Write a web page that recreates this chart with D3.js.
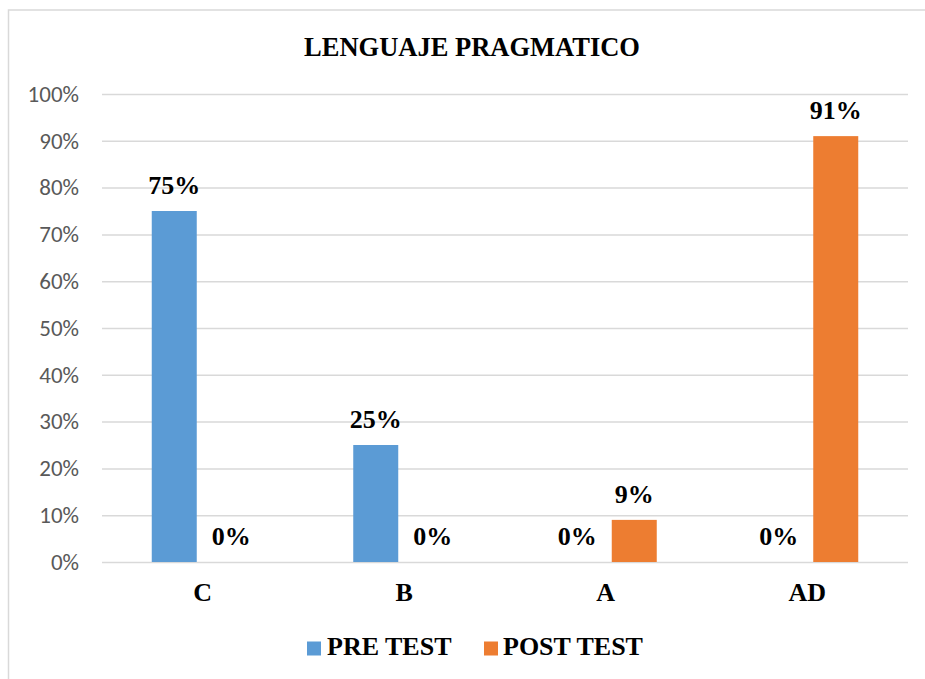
<!DOCTYPE html>
<html>
<head>
<meta charset="utf-8">
<script src="https://cdn.jsdelivr.net/npm/d3@7"></script>
<style>
  html, body { margin: 0; padding: 0; background: #ffffff; }
  svg { display: block; }
</style>
</head>
<body>
<svg id="chart" width="925" height="679"></svg>
<script>
const title = "LENGUAJE PRAGMATICO";
const categories = ["C", "B", "A", "AD"];
const seriesNames = ["PRE TEST", "POST TEST"];
const preTest = [0.75, 0.25, 0, 0];
const postTest = [0, 0, 0.09, 0.91];
const yTicks = [0, 0.1, 0.2, 0.3, 0.4, 0.5, 0.6, 0.7, 0.8, 0.9, 1.0];
const colors = ["#5B9BD5", "#ED7D31"];

const seriesValues = [preTest, postTest];
const svg = d3.select("#chart");
const W = 925, H = 679;
const plot = { left: 102, right: 908, top: 94, bottom: 562 };
const serif = "'Times New Roman', 'Liberation Serif', serif";
const sans = "'Carlito', 'Open Sans', 'Liberation Sans', sans-serif";

// chart border
svg.append("rect")
  .attr("x", 8.5).attr("y", 10)
  .attr("width", W + 20).attr("height", H + 20)
  .attr("fill", "#ffffff")
  .attr("stroke", "#D9D9D9").attr("stroke-width", 1.5);

// title
svg.append("text")
  .attr("x", 472).attr("y", 56)
  .attr("text-anchor", "middle")
  .attr("font-family", serif).attr("font-weight", "bold").attr("font-size", 26.5)
  .attr("fill", "#000000")
  .text(title);

const y = d3.scaleLinear().domain([0, 1]).range([plot.bottom, plot.top]);
const x0 = d3.scaleBand().domain(categories).range([plot.left, plot.right]).padding(0);
const x1 = d3.scaleBand().domain(seriesNames).range([-51, 51]).paddingInner(12 / 57).paddingOuter(0);

// gridlines + y tick labels
const yAxis = d3.axisLeft(y).tickValues(yTicks).tickSize(-(plot.right - plot.left)).tickPadding(23)
  .tickFormat(d3.format(".0%"));
const gy = svg.append("g").attr("transform", `translate(${plot.left},0)`).call(yAxis);
gy.select(".domain").remove();
gy.selectAll(".tick line").attr("stroke", "#D9D9D9").attr("stroke-width", 1.5);
gy.selectAll(".tick text")
  .attr("font-family", sans).attr("font-size", 23).attr("fill", "#595959");

// bars
const groups = svg.append("g").selectAll("g")
  .data(categories)
  .join("g")
  .attr("transform", d => `translate(${x0(d) + x0.bandwidth() / 2},0)`);

seriesNames.forEach((s, si) => {
  groups.append("rect")
    .attr("x", x1(s))
    .attr("width", x1.bandwidth())
    .attr("y", (d, i) => y(seriesValues[si][i]))
    .attr("height", (d, i) => y(0) - y(seriesValues[si][i]))
    .attr("fill", colors[si]);
  groups.append("text")
    .attr("x", x1(s) + x1.bandwidth() / 2)
    .attr("y", (d, i) => y(seriesValues[si][i]) - 17)
    .attr("text-anchor", "middle")
    .attr("font-family", serif).attr("font-weight", "bold").attr("font-size", 26)
    .attr("fill", "#000000")
    .text((d, i) => d3.format(".0%")(seriesValues[si][i]));
});

// x axis labels
const xAxis = d3.axisBottom(x0).tickSize(0).tickPadding(0);
const gx = svg.append("g").attr("transform", `translate(0,${plot.bottom})`).call(xAxis);
gx.select(".domain").remove();
gx.selectAll(".tick text")
  .attr("dy", 0).attr("y", 39)
  .attr("font-family", serif).attr("font-weight", "bold").attr("font-size", 26)
  .attr("fill", "#000000");

// legend
const legendItems = [
  { name: seriesNames[0], color: colors[0], sx: 307, tx: 327 },
  { name: seriesNames[1], color: colors[1], sx: 484, tx: 503 }
];
const lg = svg.append("g");
legendItems.forEach(it => {
  lg.append("rect").attr("x", it.sx).attr("y", 641.5).attr("width", 14).attr("height", 14).attr("fill", it.color);
  lg.append("text").attr("x", it.tx).attr("y", 655)
    .attr("font-family", serif).attr("font-weight", "bold").attr("font-size", 26)
    .attr("fill", "#000000").text(it.name);
});
</script>
</body>
</html>
